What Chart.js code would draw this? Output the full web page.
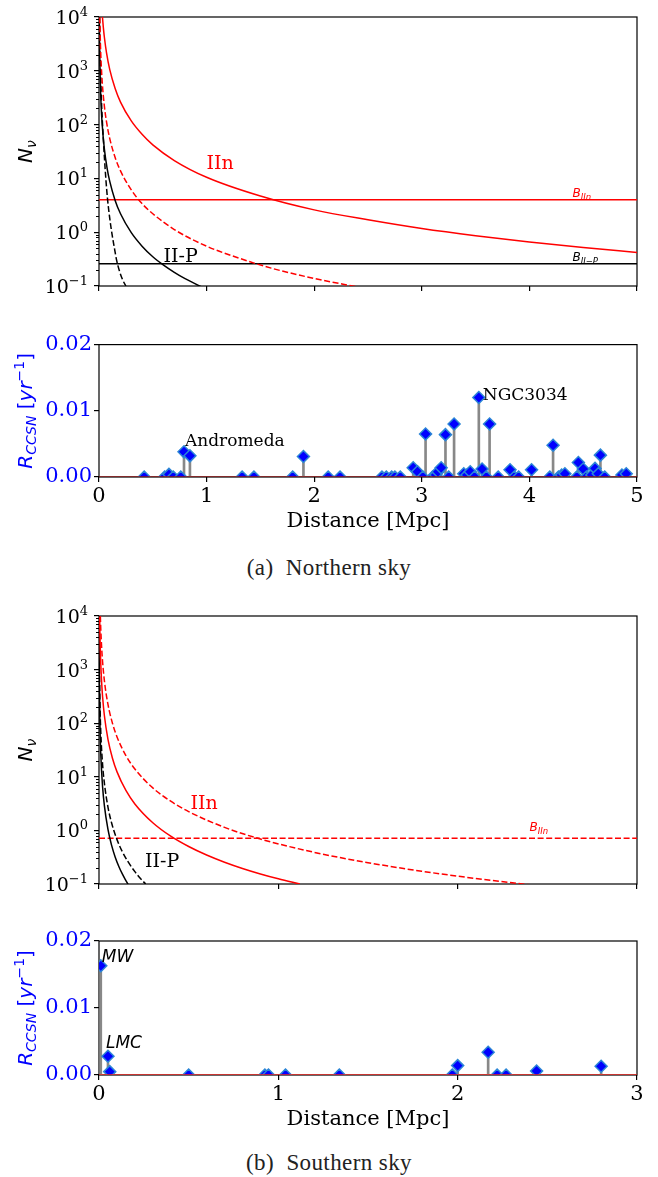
<!DOCTYPE html>
<html>
<head>
<meta charset="utf-8">
<script src="https://cdn.jsdelivr.net/npm/chart.js@4.4.1/dist/chart.umd.min.js"></script>
<style>
  html, body { margin: 0; padding: 0; background: #fff; }
  body { width: 658px; height: 1177px; position: relative; overflow: hidden; }
  canvas { position: absolute; left: 0; }
  .caption { position: absolute; left: 0; width: 658px; text-align: center;
             font-family: "Liberation Serif", serif; font-size: 23px; line-height: 26px;
             letter-spacing: 0.4px; color: #222; }
</style>
</head>
<body>
<canvas id="northNu" width="658" height="300" style="top:0px"></canvas>
<canvas id="northRate" width="658" height="215" style="top:330px"></canvas>
<div class="caption" style="top:555px">(a)&nbsp; Northern sky</div>
<canvas id="southNu" width="658" height="300" style="top:600px"></canvas>
<canvas id="southRate" width="658" height="215" style="top:925px"></canvas>
<div class="caption" style="top:1150px">(b)&nbsp; Southern sky</div>

<script>
// ---- northern sky: neutrino counts vs distance
const northIInSolidD = [0.032, 0.04, 0.05, 0.07, 0.1, 0.15, 0.2, 0.3, 0.4, 0.5, 0.7, 1.0, 1.5, 2.0, 2.5, 3.0, 3.5, 4.0, 4.5, 5.0];
const northIInSolidN = [10000, 6500, 4200, 2150, 1050, 470, 262, 117, 66, 42, 21.5, 10.5, 4.7, 2.6, 1.7, 1.17, 0.86, 0.66, 0.52, 0.42];
const northIInDashD = [0.0075, 0.01, 0.015, 0.02, 0.03, 0.05, 0.07, 0.1, 0.15, 0.2, 0.3, 0.4, 0.5, 0.7, 1.0, 1.3, 1.6, 2.0, 2.4];
const northIInDashN = [9800, 5500, 2450, 1380, 610, 220, 112, 55, 24.5, 13.8, 6.1, 3.4, 2.2, 1.12, 0.55, 0.33, 0.215, 0.138, 0.096];
const northIIPSolidD = [0.003, 0.005, 0.01, 0.02, 0.03, 0.05, 0.075, 0.1, 0.15, 0.2, 0.3, 0.4, 0.5, 0.6, 0.7, 0.8, 0.95];
const northIIPSolidN = [9800, 3500, 880, 220, 98, 35, 15.6, 8.8, 3.9, 2.2, 0.98, 0.55, 0.35, 0.245, 0.18, 0.137, 0.097];
const northIIPDashD = [0.005, 0.01, 0.02, 0.03, 0.04, 0.05, 0.065, 0.08, 0.1, 0.118, 0.14, 0.164, 0.19, 0.22, 0.25];
const northIIPDashN = [10000, 2500, 400, 130, 55, 25, 9, 4, 1.8, 1.0, 0.55, 0.3, 0.19, 0.13, 0.1];
const northBgIIn = 4.0;
const northBgIIP = 0.26;

// northern galaxies: distance [Mpc], CCSN rate [1/yr]
const northGalDist = [0.42, 0.61, 0.65, 0.69, 0.76, 0.79, 0.845, 1.33, 1.44, 1.80, 1.90, 2.13, 2.24, 2.63, 2.67, 2.72, 2.75, 2.80, 2.92, 2.96, 3.01, 3.035, 3.10, 3.13, 3.15, 3.18, 3.22, 3.25, 3.30, 3.39, 3.42, 3.45, 3.49, 3.53, 3.56, 3.60, 3.63, 3.71, 3.82, 3.86, 3.90, 4.02, 4.19, 4.22, 4.27, 4.30, 4.33, 4.44, 4.455, 4.50, 4.53, 4.58, 4.61, 4.64, 4.66, 4.70, 4.86, 4.90];
const northGalRate = [0, 0, 0.0004, 0, 0, 0.0038, 0.0032, 0, 0, 0, 0.0031, 0, 0, 0, 0, 0, 0, 0, 0.0014, 0.0008, 0, 0.0065, 0, 0.0003, 0.0008, 0.0014, 0.0064, 0, 0.0080, 0.0005, 0.0003, 0.0008, 0, 0.0120, 0.0012, 0, 0.0080, 0, 0.0011, 0, 0, 0.0011, 0, 0.0048, 0, 0.0003, 0.0005, 0, 0.0022, 0.0012, 0, 0.0003, 0.0013, 0.0005, 0.0033, 0, 0.0003, 0.0005];

// ---- southern sky
const southIInSolidD = [0.0036, 0.005, 0.0075, 0.01, 0.015, 0.02, 0.03, 0.05, 0.075, 0.1, 0.15, 0.2, 0.3, 0.4, 0.5, 0.6, 0.7, 0.8, 0.9, 1.0, 1.12];
const southIInSolidN = [9650, 5000, 2220, 1250, 556, 312, 139, 50, 22.2, 12.5, 5.56, 3.12, 1.39, 0.78, 0.5, 0.347, 0.255, 0.195, 0.154, 0.125, 0.0996];
const southIInDashD = [0.0075, 0.01, 0.015, 0.02, 0.03, 0.05, 0.075, 0.1, 0.15, 0.2, 0.3, 0.4, 0.5, 0.7, 0.9, 1.2, 1.5, 1.8, 2.1, 2.4];
const southIInDashN = [9950, 5600, 2490, 1400, 622, 224, 100, 56, 24.9, 14, 6.2, 3.5, 2.24, 1.14, 0.69, 0.39, 0.25, 0.173, 0.127, 0.097];
const southIIPSolidD = [0.0005, 0.001, 0.002, 0.005, 0.01, 0.02, 0.03, 0.05, 0.07, 0.09, 0.11, 0.13, 0.15, 0.165];
const southIIPSolidN = [10000, 2600, 650, 104, 26, 6.5, 2.9, 1.04, 0.53, 0.32, 0.215, 0.154, 0.116, 0.095];
const southIIPDashD = [0.0008, 0.001, 0.002, 0.005, 0.01, 0.02, 0.03, 0.05, 0.07, 0.1, 0.13, 0.16, 0.2, 0.23, 0.26];
const southIIPDashN = [10000, 6800, 1700, 272, 68, 17, 7.6, 2.72, 1.39, 0.68, 0.40, 0.266, 0.17, 0.128, 0.1];
const southBgIIn = 0.71;

const southGalDist = [0.01, 0.05, 0.06, 0.5, 0.925, 0.945, 1.04, 1.34, 1.97, 2.0, 2.17, 2.22, 2.27, 2.44, 2.80];
const southGalRate = [0.0163, 0.0028, 0.0005, 0, 0, 0, 0, 0, 0, 0.0014, 0.0034, 0, 0, 0.0006, 0.0013];

// ticks
const logTickVals = [0.1, 1, 10, 100, 1000, 10000];
const logTickExp = ['\u22121', '0', '1', '2', '3', '4'];
const northXTicks = [0, 1, 2, 3, 4, 5];
const southXTicks = [0, 1, 2, 3];
const rateTicks = [0, 0.01, 0.02];

const serif = '"DejaVu Serif", serif';
const sans = '"DejaVu Sans", sans-serif';
const RED = '#ff0000';
const BLUE = '#0000ff';

const pts = (xs, ys) => xs.map((x, i) => ({ x: x, y: ys[i] }));

// text made of pieces (for sub/superscripts)
function drawParts(ctx, parts, x, y, align, angle) {
  ctx.save();
  ctx.translate(x, y);
  if (angle) ctx.rotate(angle);
  let w = 0;
  parts.forEach(p => { ctx.font = p.font; p.w = ctx.measureText(p.text).width; w += p.w; });
  let cx = align === 'center' ? -w / 2 : align === 'right' ? -w : 0;
  ctx.textAlign = 'left';
  ctx.textBaseline = 'alphabetic';
  parts.forEach(p => {
    ctx.font = p.font;
    ctx.fillStyle = p.color;
    ctx.fillText(p.text, cx, p.dy || 0);
    cx += p.w;
  });
  ctx.restore();
}

const decor = {
  id: 'decor',
  beforeDatasetsDraw(chart) {
    const { ctx, chartArea: a } = chart;
    ctx.save();
    ctx.strokeStyle = '#000';
    ctx.lineWidth = 1.2;
    ctx.strokeRect(a.left, a.top, a.right - a.left, a.bottom - a.top);
    ctx.restore();
  },
  afterDraw(chart, args, opts) {
    const { ctx, chartArea: a, scales } = chart;
    if (opts.log) {
      // minor ticks + 10^n labels
      ctx.save();
      ctx.strokeStyle = '#000';
      ctx.lineWidth = 1;
      for (let e = -1; e < 4; e++) {
        for (let k = 2; k < 10; k++) {
          const y = Math.round(scales.y.getPixelForValue(k * Math.pow(10, e))) + 0.5;
          ctx.beginPath();
          ctx.moveTo(a.left - 3, y);
          ctx.lineTo(a.left, y);
          ctx.stroke();
        }
      }
      ctx.restore();
      logTickVals.forEach((v, i) => {
        const y = scales.y.getPixelForValue(v);
        drawParts(ctx, [
          { text: '10', font: '19px ' + serif, color: '#000', dy: 7 },
          { text: logTickExp[i], font: '13px ' + serif, color: '#000', dy: -1 }
        ], a.left - 11, y, 'right');
      });
    }
    (opts.texts || []).forEach(t => {
      const x = scales.x.getPixelForValue(t.x) + (t.dx || 0);
      const y = scales.y.getPixelForValue(t.y) + (t.dy || 0);
      drawParts(ctx, t.parts, x, y, 'left');
    });
    const midY = (a.top + a.bottom) / 2;
    if (opts.yTitle) drawParts(ctx, opts.yTitle, 32, midY, 'center', -Math.PI / 2);
    if (opts.xTitle) drawParts(ctx, [{ text: 'Distance [Mpc]', font: '21px ' + serif, color: '#000' }],
      (a.left + a.right) / 2, a.bottom + 50, 'center');
  }
};

function lineSet(xs, ys, color, dashed) {
  return {
    type: 'line', data: pts(xs, ys), borderColor: color, borderWidth: 1.5,
    borderDash: dashed ? [6, 2.6] : [], pointRadius: 0, cubicInterpolationMode: 'monotone', clip: 0
  };
}

const nuTitle = [
  { text: 'N', font: 'italic 20px ' + sans, color: '#000' },
  { text: '\u03bd', font: 'italic 14px ' + sans, color: '#000', dy: 4 }
];
const rateTitle = [
  { text: 'R', font: 'italic 20px ' + sans, color: BLUE },
  { text: 'CCSN', font: 'italic 14px ' + sans, color: BLUE, dy: 4 },
  { text: ' [', font: '20px ' + sans, color: BLUE },
  { text: 'yr', font: 'italic 20px ' + sans, color: BLUE },
  { text: '\u22121', font: '14px ' + sans, color: BLUE, dy: -8 },
  { text: ']', font: '20px ' + sans, color: BLUE }
];
function bLabel(sub, color) {
  return [
    { text: 'B', font: 'italic 12px ' + sans, color: color },
    { text: sub, font: 'italic 8.5px ' + sans, color: color, dy: 3 }
  ];
}

function nuChart(id, xMax, xTicks, sets, padTop, axisH, texts) {
  return new Chart(document.getElementById(id), {
    type: 'line',
    data: { datasets: sets },
    options: {
      responsive: false, animation: false, events: [],
      layout: { padding: { top: padTop, right: 21, left: 0, bottom: 0 } },
      plugins: { legend: { display: false }, tooltip: { enabled: false },
        decor: { log: true, texts: texts, yTitle: nuTitle } },
      scales: {
        x: { type: 'linear', min: 0, max: xMax,
          afterBuildTicks: s => { s.ticks = xTicks.map(v => ({ value: v })); },
          afterFit: s => { s.height = axisH; },
          ticks: { display: false },
          grid: { drawOnChartArea: false, tickLength: 5, color: '#000', lineWidth: 1.2 },
          border: { display: false } },
        y: { type: 'logarithmic', min: 0.1, max: 10000,
          afterBuildTicks: s => { s.ticks = logTickVals.map(v => ({ value: v })); },
          afterFit: s => { s.width = 99; },
          ticks: { display: false },
          grid: { drawOnChartArea: false, tickLength: 5, color: '#000', lineWidth: 1.2 },
          border: { display: false } }
      }
    },
    plugins: [decor]
  });
}

function rateChart(id, xMax, xTicks, dist, rate, baseColor, padTop, axisH, texts) {
  const stems = pts(dist, rate);
  return new Chart(document.getElementById(id), {
    type: 'bar',
    data: { datasets: [
      { type: 'bar', data: stems, backgroundColor: '#888888', barThickness: 2, order: 3 },
      { type: 'scatter', data: stems, pointStyle: 'rectRot', pointRadius: 6,
        backgroundColor: BLUE, borderColor: '#2c86d6', borderWidth: 1.5, clip: 0, order: 2 },
      { type: 'line', data: [{ x: 0, y: 0 }, { x: xMax, y: 0 }], borderColor: baseColor,
        borderWidth: 1.5, pointRadius: 0, order: 1 }
    ] },
    options: {
      responsive: false, animation: false, events: [],
      layout: { padding: { top: padTop, right: 21, left: 0, bottom: 0 } },
      plugins: { legend: { display: false }, tooltip: { enabled: false },
        decor: { texts: texts, yTitle: rateTitle, xTitle: true } },
      scales: {
        x: { type: 'linear', min: 0, max: xMax, offset: false,
          afterBuildTicks: s => { s.ticks = xTicks.map(v => ({ value: v })); },
          afterFit: s => { s.height = axisH; },
          ticks: { color: '#000', font: { family: serif, size: 21 }, padding: 2, callback: v => String(v) },
          grid: { drawOnChartArea: false, offset: false, tickLength: 5, color: '#000', lineWidth: 1.2 },
          border: { display: false } },
        y: { type: 'linear', min: 0, max: 0.02,
          afterBuildTicks: s => { s.ticks = rateTicks.map(v => ({ value: v })); },
          afterFit: s => { s.width = 99; },
          ticks: { color: BLUE, font: { family: serif, size: 21 }, padding: 2, callback: v => v.toFixed(2) },
          grid: { drawOnChartArea: false, tickLength: 5, color: '#000', lineWidth: 1.2 },
          border: { display: false } }
      }
    },
    plugins: [decor]
  });
}

const serif19 = '19px ' + serif;

nuChart('northNu', 5, northXTicks, [
  lineSet(northIInSolidD, northIInSolidN, RED, false),
  lineSet(northIInDashD, northIInDashN, RED, true),
  lineSet(northIIPSolidD, northIIPSolidN, '#000', false),
  lineSet(northIIPDashD, northIIPDashN, '#000', true),
  lineSet([0, 5], [northBgIIn, northBgIIn], RED, false),
  lineSet([0, 5], [northBgIIP, northBgIIP], '#000', false)
], 17, 14, [
  { x: 1.0, y: 15, parts: [{ text: 'IIn', font: serif19, color: RED }] },
  { x: 0.6, y: 0.28, parts: [{ text: 'II-P', font: serif19, color: '#000' }] },
  { x: 4.4, y: northBgIIn, dy: -3, parts: bLabel('IIn', RED) },
  { x: 4.4, y: northBgIIP, dy: -3, parts: bLabel('II\u2212P', '#000') }
]);

rateChart('northRate', 5, northXTicks, northGalDist, northGalRate, '#8b1414', 12, 68, [
  { x: 0.79, y: 0.0038, dx: 1, dy: -6, parts: [{ text: 'Andromeda', font: '17px ' + serif, color: '#000' }] },
  { x: 3.53, y: 0.012, dx: 4, dy: 2, parts: [{ text: 'NGC3034', font: '17px ' + serif, color: '#000' }] }
]);

nuChart('southNu', 3, southXTicks, [
  lineSet(southIInSolidD, southIInSolidN, RED, false),
  lineSet(southIInDashD, southIInDashN, RED, true),
  lineSet(southIIPSolidD, southIIPSolidN, '#000', false),
  lineSet(southIIPDashD, southIIPDashN, '#000', true),
  lineSet([0, 3], [southBgIIn, southBgIIn], RED, true)
], 16, 16, [
  { x: 0.51, y: 2.46, parts: [{ text: 'IIn', font: serif19, color: RED }] },
  { x: 0.257, y: 0.204, parts: [{ text: 'II-P', font: serif19, color: '#000' }] },
  { x: 2.4, y: southBgIIn, dy: -7, parts: bLabel('IIn', RED) }
]);

rateChart('southRate', 3, southXTicks, southGalDist, southGalRate, '#e8261f', 16, 65, [
  { x: 0.01, y: 0.0163, dx: 1, dy: -4, parts: [{ text: 'MW', font: 'italic 17px ' + sans, color: '#000' }] },
  { x: 0.05, y: 0.0028, dx: -2, dy: -8, parts: [{ text: 'LMC', font: 'italic 17px ' + sans, color: '#000' }] }
]);
</script>
</body>
</html>
